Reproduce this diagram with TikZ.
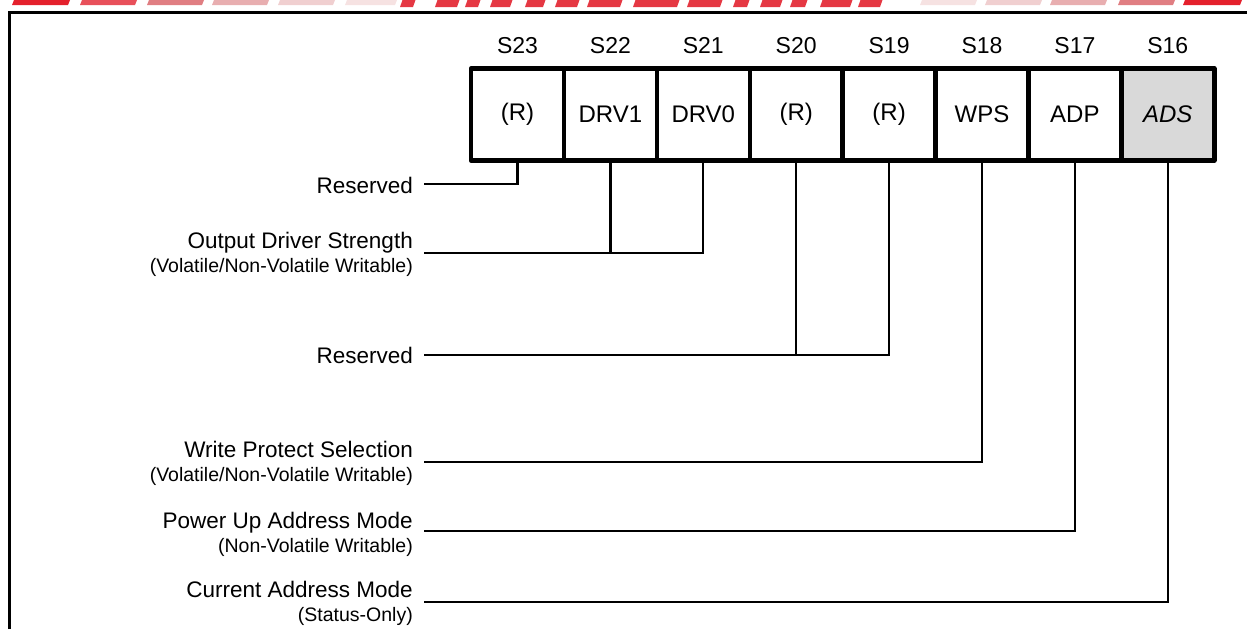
\documentclass[tikz,border=0pt]{standalone}
\usepackage{fontspec}
\setmainfont{Liberation Sans}
\begin{document}
\begin{tikzpicture}[x=1pt,y=-1pt,
  cell/.style={draw, line width=4.5pt, line join=round, minimum width=92.9pt, minimum height=92pt, inner sep=0pt, font=\fontsize{24}{28}\selectfont},
  bitlab/.style={anchor=base, inner sep=0pt, font=\fontsize{23}{27}\selectfont},
  lab/.style={anchor=base east, inner sep=0pt, font=\fontsize{22.5}{27}\selectfont},
  sublab/.style={anchor=base east, inner sep=0pt, font=\fontsize{19.5}{23}\selectfont},
  conn/.style={line width=2.2pt},
  frame/.style={line width=2.6pt}]
\useasboundingbox (0,0) rectangle (1247,629);
% red strip at top
\foreach \a/\b/\c in {12/68/E4202C,80/135/E8505A,147/202/E07E82,212/267/E8AEB0,278/333/F0CFD0,345/395/F6E2E2,
  920/975/F6E2E2,985/1040/F0CFD0,1050/1105/E8AEB0,1118/1173/E07E82,1183/1240/E4202C}{
  \definecolor{tmp}{HTML}{\c}
  \fill[tmp] (\a,5) -- (\b,5) -- (\b+2,0) -- (\a+2,0) -- cycle;
}
\definecolor{wred}{HTML}{E53843}
\foreach \a/\b in {400/413,435/457,465/478,490/510,525/543,555/577,587/620,633/677,687/720,733/747,760/780,790/805,820/850,858/880}{
  \fill[wred] (\a,7) -- (\b,7) -- (\b+2.5,0) -- (\a+2.5,0) -- cycle;
}
% frame
\draw[frame] (9.5,629) -- (9.5,12.5) -- (1247,12.5);
% cells
\definecolor{adsgray}{HTML}{D9D9D9}
\node[cell] (c23) at (517.5,114.5) {(R)};
\node[cell] (c22) at (610.4,114.5) {DRV1};
\node[cell] (c21) at (703.3,114.5) {DRV0};
\node[cell] (c20) at (796.2,114.5) {(R)};
\node[cell] (c19) at (889.1,114.5) {(R)};
\node[cell] (c18) at (982.0,114.5) {WPS};
\node[cell] (c17) at (1074.9,114.5) {ADP};
\node[cell, fill=adsgray] (c16) at (1167.8,114.5) {\itshape ADS};
% bit labels
\foreach \n in {23,22,21,20,19,18,17,16}{
  \node[bitlab] (b\n) at (c\n.center |- 0,53) {S\n};
}
% field labels
\node[lab] (l1) at (413,193) {Reserved};
\node[lab] (l2) at (413,248) {Output Driver Strength};
\node[sublab] (l2s) at (413,272) {(Volatile/Non-Volatile Writable)};
\node[lab] (l3) at (413,363) {Reserved};
\node[lab] (l4) at (413,457) {Write Protect Selection};
\node[sublab] (l4s) at (413,481) {(Volatile/Non-Volatile Writable)};
\node[lab] (l5) at (413,528) {Power Up Address Mode};
\node[sublab] (l5s) at (413,552) {(Non-Volatile Writable)};
\node[lab] (l6) at (413,597) {Current Address Mode};
\node[sublab] (l6s) at (413,621) {(Status-Only)};
% connector start points
\coordinate (p1) at (424,184);
\coordinate (p2) at (424,253);
\coordinate (p3) at (424,355);
\coordinate (p4) at (424,462);
\coordinate (p5) at (424,531);
\coordinate (p6) at (424,602);
% connectors
\draw[conn] (p1) -| (c23.south);
\draw[conn] (p2) -| (c21.south);
\draw[conn] (c22.south) -- (c22.south |- p2);
\draw[conn] (p3) -| (c19.south);
\draw[conn] (c20.south) -- (c20.south |- p3);
\draw[conn] (p4) -| (c18.south);
\draw[conn] (p5) -| (c17.south);
\draw[conn] (p6) -| (c16.south);
\end{tikzpicture}
\end{document}
